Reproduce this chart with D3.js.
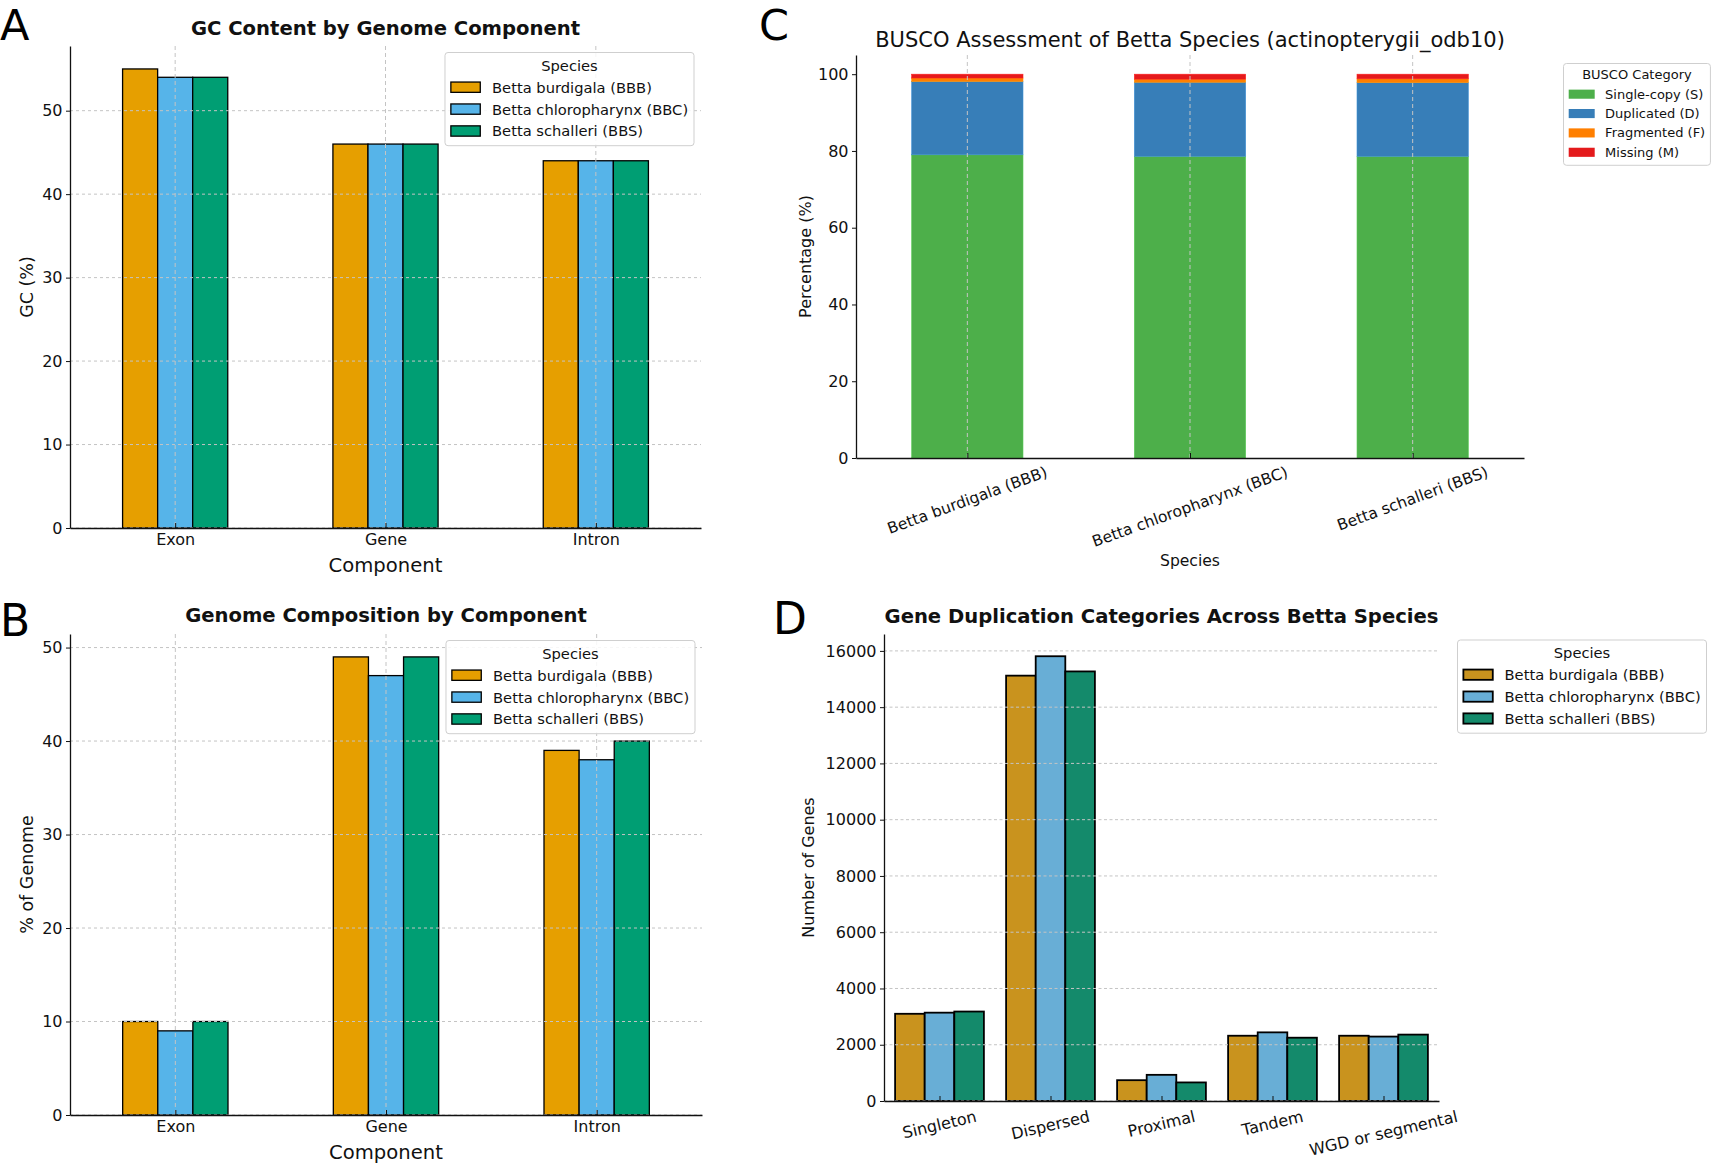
<!DOCTYPE html>
<html>
<head>
<meta charset="utf-8">
<script src="https://cdn.jsdelivr.net/npm/d3@7"></script>
<style>
  body { margin: 0; background: #fff; }
  svg { display: block; }
  text { font-family: "DejaVu Sans", sans-serif; }
</style>
</head>
<body>
<svg id="fig" width="1713" height="1163"></svg>
<script>
(function () {
    'use strict';

    // ---- data ----
    const species = ['Betta burdigala (BBB)', 'Betta chloropharynx (BBC)', 'Betta schalleri (BBS)'];
    const components = ['Exon', 'Gene', 'Intron'];

    const gcBBB = [55, 46, 44];
    const gcBBC = [54, 46, 44];
    const gcBBS = [54, 46, 44];
    const gcTicks = [0, 10, 20, 30, 40, 50];

    const compBBB = [10, 49, 39];
    const compBBC = [9, 47, 38];
    const compBBS = [10, 49, 40];
    const compTicks = [0, 10, 20, 30, 40, 50];

    const buscoCategories = ['Single-copy (S)', 'Duplicated (D)', 'Fragmented (F)', 'Missing (M)'];
    const buscoSingle = [79.0, 78.6, 78.6];
    const buscoDup = [19.1, 19.3, 19.2];
    const buscoFrag = [0.9, 0.8, 1.0];
    const buscoMiss = [1.0, 1.3, 1.2];
    const buscoTicks = [0, 20, 40, 60, 80, 100];

    const dupCategories = ['Singleton', 'Dispersed', 'Proximal', 'Tandem', 'WGD or segmental'];
    const dupBBB = [3100, 15120, 740, 2320, 2320];
    const dupBBC = [3140, 15810, 930, 2440, 2290];
    const dupBBS = [3180, 15270, 660, 2250, 2360];
    const dupTicks = [0, 2000, 4000, 6000, 8000, 10000, 12000, 14000, 16000];

    const okabe = ['#E69F00', '#56B4E9', '#009E73'];
    const okabeMuted = ['#C9931E', '#68AED6', '#148A6B'];
    const set1 = ['#4DAF4A', '#377EB8', '#FF7F00', '#E41A1C'];

    const INK = '#111';
    const GRID = '#c4c4c4';

    const svg = d3.select('#fig');

    function addText(parent, str, x, y, size, opts) {
        opts = opts || {};
        return parent.append('text')
            .text(str)
            .attr('x', x).attr('y', y)
            .attr('font-size', size)
            .attr('font-weight', opts.bold ? 'bold' : null)
            .attr('text-anchor', opts.anchor || 'start')
            .attr('fill', opts.fill || INK);
    }

    function yLabel(str, x, cy, size) {
        svg.append('text')
            .text(str)
            .attr('font-size', size)
            .attr('text-anchor', 'middle')
            .attr('dominant-baseline', 'central')
            .attr('fill', INK)
            .attr('transform', `translate(${x},${cy}) rotate(-90)`);
    }

    function yAxis(g, y, ticks, fs) {
        const ax = g.append('g')
            .attr('color', INK)
            .call(d3.axisLeft(y).tickValues(ticks).tickFormat(d3.format('d'))
                .tickSizeInner(4).tickSizeOuter(0).tickPadding(3.5));
        ax.selectAll('text').attr('font-size', fs).attr('font-family', null);
        ax.select('.domain').attr('stroke-width', 1.3);
        ax.selectAll('.tick line').attr('stroke-width', 1);
        return ax;
    }

    function xAxis(g, x, n, h, labels, fs) {
        const ax = g.append('g')
            .attr('transform', `translate(0,${h})`)
            .attr('color', INK)
            .call(d3.axisBottom(x).tickValues(d3.range(n))
                .tickFormat(labels ? (i => labels[i]) : '')
                .tickSizeInner(-5).tickSizeOuter(0).tickPadding(6));
        ax.selectAll('text').attr('font-size', fs).attr('font-family', null);
        ax.select('.domain').attr('stroke-width', 1.3);
        ax.selectAll('.tick line').attr('stroke-width', 1);
        return ax;
    }

    function rotatedLabels(g, labels, x, h, angle, pad, fs) {
        const a = angle * Math.PI / 180;
        labels.forEach(function (t, i) {
            const el = g.append('text').text(t)
                .attr('font-size', fs)
                .attr('text-anchor', 'middle')
                .attr('dominant-baseline', 'central')
                .attr('fill', INK);
            const L = el.node().getComputedTextLength();
            const H = L * Math.sin(a) + fs * 1.05 * Math.cos(a);
            el.attr('transform', `translate(${x(i)},${h + pad + H / 2}) rotate(${-angle})`);
        });
    }

    function hGrid(g, y, ticks, w, dash) {
        g.append('g').selectAll('line').data(ticks).join('line')
            .attr('x1', 0).attr('x2', w)
            .attr('y1', d => y(d)).attr('y2', d => y(d))
            .attr('stroke', GRID).attr('stroke-width', 1)
            .attr('stroke-dasharray', dash);
    }

    function vGrid(g, x, n, h, dash) {
        g.append('g').selectAll('line').data(d3.range(n)).join('line')
            .attr('x1', d => x(d)).attr('x2', d => x(d))
            .attr('y1', 0).attr('y2', h)
            .attr('stroke', GRID).attr('stroke-width', 1)
            .attr('stroke-dasharray', dash);
    }

    function legend(o) {
        const fs = o.fs;
        const g = svg.append('g');
        const pad = 0.4 * fs, hl = 2 * fs, htp = 0.8 * fs, rowH = 1.49 * fs;
        const box = g.append('rect');
        const title = g.append('text').text(o.title)
            .attr('font-size', fs).attr('text-anchor', 'middle')
            .attr('dominant-baseline', 'central').attr('fill', INK);
        const items = o.labels.map(function (lab, i) {
            return g.append('text').text(lab)
                .attr('font-size', fs).attr('dominant-baseline', 'central').attr('fill', INK);
        });
        const maxW = d3.max(items, t => t.node().getComputedTextLength());
        const w = pad * 2 + hl + htp + maxW;
        const titleY = o.top + 0.87 * fs;
        const h = (titleY - o.top) + rowH * o.labels.length + 1.0 * fs;
        const left = o.right != null ? o.right - w : o.left;
        box.attr('x', left).attr('y', o.top).attr('width', w).attr('height', h)
            .attr('rx', 3).attr('fill', '#fff').attr('fill-opacity', 0.85)
            .attr('stroke', '#cfcfcf').attr('stroke-width', 1);
        title.attr('x', left + w / 2).attr('y', titleY);
        items.forEach(function (t, i) {
            const cy = titleY + rowH * (i + 1);
            t.attr('x', left + pad + hl + htp).attr('y', cy);
            g.append('rect')
                .attr('x', left + pad).attr('y', cy - 0.35 * fs)
                .attr('width', hl).attr('height', 0.7 * fs)
                .attr('fill', o.colors[i])
                .attr('stroke', o.edge ? '#000' : 'none')
                .attr('stroke-width', o.edge || 0);
        });
    }

    function groupedPanel(cfg) {
        const f = cfg.frame;
        const w = f.right - f.left, h = f.bottom - f.top;
        const g = svg.append('g').attr('transform', `translate(${f.left},${f.top})`);
        const n = cfg.categories.length, m = cfg.series.length;
        const x = d3.scaleLinear().domain([-0.5, n - 0.5]).range([0, w]);
        const yMax = d3.max(cfg.series, s => d3.max(s)) * 1.05;
        const y = d3.scaleLinear().domain([0, yMax]).range([h, 0]);
        const bw = cfg.groupWidth / m;

        cfg.series.forEach(function (vals, j) {
            g.append('g').selectAll('rect').data(vals).join('rect')
                .attr('x', (d, i) => x(i + (j - (m - 1) / 2) * bw - bw / 2))
                .attr('width', x(bw) - x(0))
                .attr('y', d => y(d))
                .attr('height', d => h - y(d))
                .attr('fill', cfg.colors[j])
                .attr('stroke', '#000')
                .attr('stroke-width', cfg.edge);
        });

        hGrid(g, y, cfg.ticks, w, cfg.dash);
        if (cfg.vgrid) vGrid(g, x, n, h, '4,3');

        yAxis(g, y, cfg.ticks, cfg.fs);
        if (cfg.rotate) {
            xAxis(g, x, n, h, null, cfg.fs);
            rotatedLabels(g, cfg.categories, x, h, cfg.rotate, 7, cfg.fs);
        } else {
            xAxis(g, x, n, h, cfg.categories, cfg.fs);
        }
        return { g: g, x: x, y: y, w: w, h: h };
    }

    // ---- Panel A ----
    const frameA = { left: 70, right: 701, top: 46, bottom: 528 };
    groupedPanel({
        frame: frameA, categories: components, series: [gcBBB, gcBBC, gcBBS],
        colors: okabe, groupWidth: 0.5, edge: 1.3, ticks: gcTicks, fs: 16,
        vgrid: true, dash: '3,3'
    });
    addText(svg, 'GC Content by Genome Component', (frameA.left + frameA.right) / 2, 35, 19.6, { bold: true, anchor: 'middle' });
    addText(svg, 'Component', (frameA.left + frameA.right) / 2, 572, 19.6, { anchor: 'middle' });
    yLabel('GC (%)', 27, (frameA.top + frameA.bottom) / 2, 17.5);
    legend({ right: frameA.right - 7, top: frameA.top + 6.5, title: 'Species', labels: species, colors: okabe, fs: 14.7, edge: 1.3 });
    addText(svg, 'A', 0, 40, 43, { fill: '#000' });

    // ---- Panel B ----
    const frameB = { left: 70, right: 702, top: 634, bottom: 1115 };
    groupedPanel({
        frame: frameB, categories: components, series: [compBBB, compBBC, compBBS],
        colors: okabe, groupWidth: 0.5, edge: 1.3, ticks: compTicks, fs: 16,
        vgrid: true, dash: '3,3'
    });
    addText(svg, 'Genome Composition by Component', (frameB.left + frameB.right) / 2, 622, 19.6, { bold: true, anchor: 'middle' });
    addText(svg, 'Component', (frameB.left + frameB.right) / 2, 1159, 19.6, { anchor: 'middle' });
    yLabel('% of Genome', 27, (frameB.top + frameB.bottom) / 2, 17.5);
    legend({ right: frameB.right - 7, top: frameB.top + 6.5, title: 'Species', labels: species, colors: okabe, fs: 14.7, edge: 1.3 });
    addText(svg, 'B', 0, 636, 44, { fill: '#000' });

    // ---- Panel C (stacked BUSCO) ----
    const frameC = { left: 856, right: 1524, top: 55, bottom: 458 };
    (function () {
        const f = frameC;
        const w = f.right - f.left, h = f.bottom - f.top;
        const g = svg.append('g').attr('transform', `translate(${f.left},${f.top})`);
        const stackSeries = [buscoSingle, buscoDup, buscoFrag, buscoMiss];
        const n = species.length;
        const x = d3.scaleLinear().domain([-0.5, n - 0.5]).range([0, w]);
        const totals = d3.range(n).map(i => d3.sum(stackSeries, s => s[i]));
        const y = d3.scaleLinear().domain([0, d3.max(totals) * 1.05]).range([h, 0]);
        const bw = 0.5;
        const base = species.map(() => 0);
        stackSeries.forEach(function (vals, j) {
            g.append('g').selectAll('rect').data(vals).join('rect')
                .attr('x', (d, i) => x(i - bw / 2))
                .attr('width', x(bw) - x(0))
                .attr('y', (d, i) => y(base[i] + d))
                .attr('height', (d, i) => y(base[i]) - y(base[i] + d))
                .attr('fill', set1[j])
                .attr('stroke', d3.color(set1[j]).brighter(0.4))
                .attr('stroke-width', 0.6);
            vals.forEach((d, i) => { base[i] += d; });
        });
        vGrid(g, x, n, h, '4,3');
        yAxis(g, y, buscoTicks, 16);
        xAxis(g, x, n, h, null, 15.5);
        rotatedLabels(g, species, x, h, 20, 6, 15.5);
    })();
    addText(svg, 'BUSCO Assessment of Betta Species (actinopterygii_odb10)', (frameC.left + frameC.right) / 2, 47, 21, { anchor: 'middle' });
    addText(svg, 'Species', (frameC.left + frameC.right) / 2, 566, 15.6, { anchor: 'middle' });
    yLabel('Percentage (%)', 805, (frameC.top + frameC.bottom) / 2, 16);
    legend({ left: 1563.5, top: 63.5, title: 'BUSCO Category', labels: buscoCategories, colors: set1, fs: 13, edge: 0 });
    addText(svg, 'C', 759, 40, 43, { fill: '#000' });

    // ---- Panel D ----
    const frameD = { left: 884, right: 1439, top: 634, bottom: 1101 };
    groupedPanel({
        frame: frameD, categories: dupCategories, series: [dupBBB, dupBBC, dupBBS],
        colors: okabeMuted, groupWidth: 0.8, edge: 1.8, ticks: dupTicks, fs: 16,
        vgrid: false, dash: '3,2.5', rotate: 13
    });
    addText(svg, 'Gene Duplication Categories Across Betta Species', (frameD.left + frameD.right) / 2, 623, 19.6, { bold: true, anchor: 'middle' });
    yLabel('Number of Genes', 808, (frameD.top + frameD.bottom) / 2, 16);
    legend({ left: 1457.5, top: 640, title: 'Species', labels: species, colors: okabeMuted, fs: 14.7, edge: 1.8 });
    addText(svg, 'D', 773, 634, 44, { fill: '#000' });
})();
</script>
</body>
</html>
